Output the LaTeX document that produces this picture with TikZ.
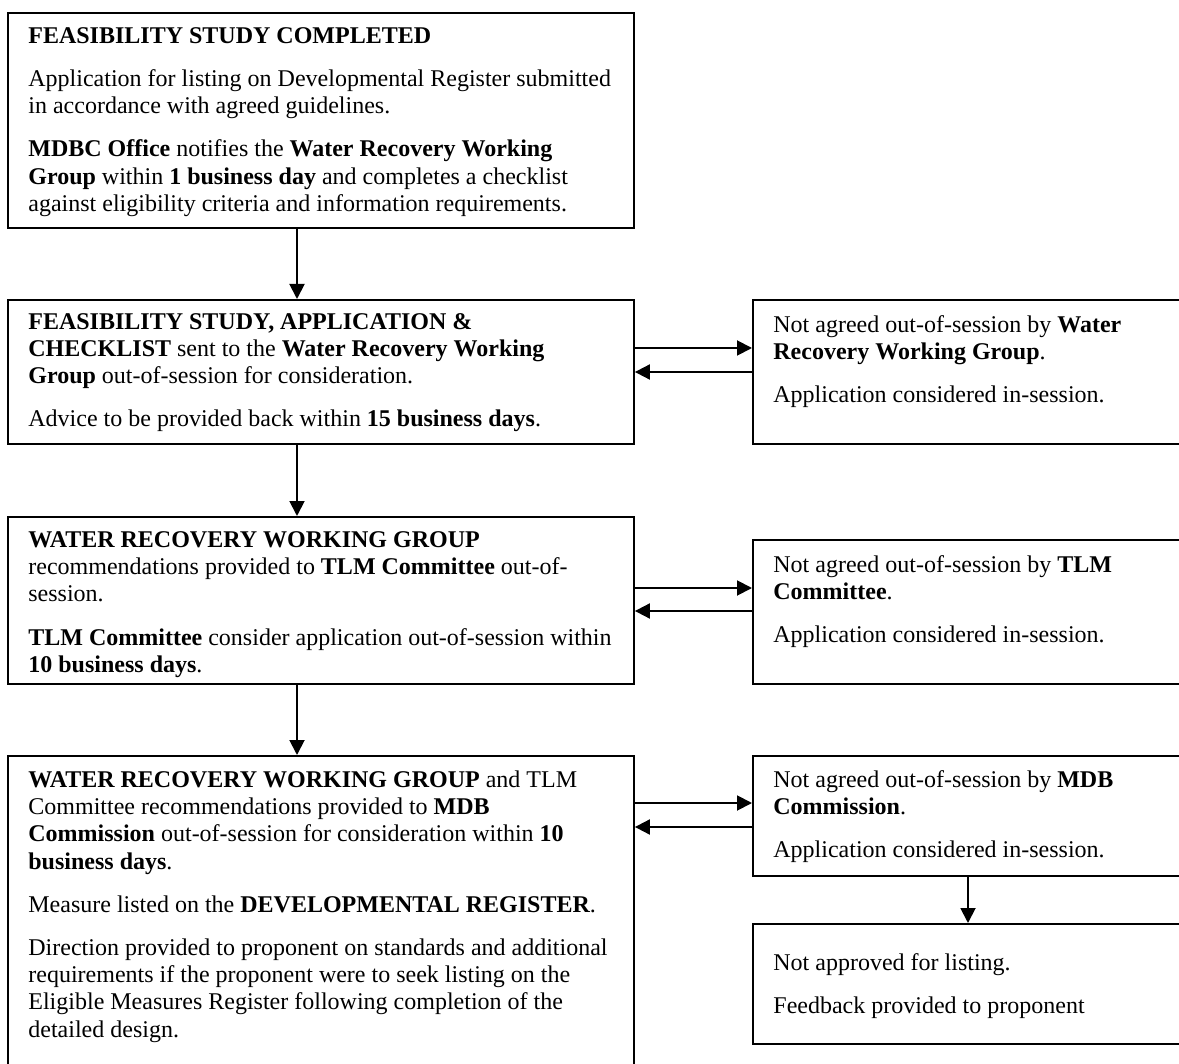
\documentclass[tikz,border=0pt]{standalone}
\usepackage{fontspec}
\setmainfont{Liberation Serif}
\usetikzlibrary{arrows.meta}
\newcommand\topstrut{\rule{0pt}{10pt}}
\begin{document}
\begin{tikzpicture}[x=0.5pt,y=-0.5pt,
  box/.style={draw, line width=0.95pt, anchor=north west, inner sep=0pt, minimum width=313pt},
  rbox/.style={draw, line width=0.95pt, anchor=north west, inner sep=0pt, minimum width=225pt},
  txt/.style={anchor=north west, inner sep=0pt, align=left, font=\fontsize{12}{13.6}\selectfont},
  arr/.style={line width=0.95pt, -{Triangle[length=7.5pt,width=7.5pt]}},
]
\useasboundingbox (0,0) rectangle (1179,1064);
\clip (0,0) rectangle (1179,1064);

% boxes
\node[box, minimum height=107.5pt] (b1) at (7,12) {};
\node[box, minimum height=72pt] (b2) at (7,299) {};
\node[box, minimum height=83.5pt] (b3) at (7,516) {};
\node[box, minimum height=165pt] (b4) at (7,755) {};
\node[rbox, minimum height=72pt] (r1) at (752,299) {};
\node[rbox, minimum height=72pt] (r2) at (752,539) {};
\node[rbox, minimum height=60pt] (r3) at (752,755) {};
\node[rbox, minimum height=60pt] (r4) at (752,923) {};

% texts (node top = first baseline - 20)
\node[txt] (t1) at (28,23) {\topstrut\textbf{FEASIBILITY STUDY COMPLETED}\\[8pt]
Application for listing on Developmental Register submitted\\
in accordance with agreed guidelines.\\[8pt]
\textbf{MDBC Office} notifies the \textbf{Water Recovery Working}\\
\textbf{Group} within \textbf{1 business day} and completes a checklist\\
against eligibility criteria and information requirements.};

\node[txt] (t2) at (28,309) {\topstrut\textbf{FEASIBILITY STUDY, APPLICATION \&}\\
\textbf{CHECKLIST} sent to the \textbf{Water Recovery Working}\\
\textbf{Group} out-of-session for consideration.\\[8pt]
Advice to be provided back within \textbf{15 business days}.};

\node[txt] (t3) at (28,527) {\topstrut\textbf{WATER RECOVERY WORKING GROUP}\\
recommendations provided to \textbf{TLM Committee} out-of-\\
session.\\[8pt]
\textbf{TLM Committee} consider application out-of-session within\\
\textbf{10 business days}.};

\node[txt] (t4) at (28,767) {\topstrut\textbf{WATER RECOVERY WORKING GROUP} and TLM\\
Committee recommendations provided to \textbf{MDB}\\
\textbf{Commission} out-of-session for consideration within \textbf{10}\\
\textbf{business days}.\\[8pt]
Measure listed on the \textbf{DEVELOPMENTAL REGISTER}.\\[8pt]
Direction provided to proponent on standards and additional\\
requirements if the proponent were to seek listing on the\\
Eligible Measures Register following completion of the\\
detailed design.};

\node[txt] (s1) at (773,312) {\topstrut Not agreed out-of-session by \textbf{Water}\\
\textbf{Recovery Working Group}.\\[8pt]
Application considered in-session.};

\node[txt] (s2) at (773,552) {\topstrut Not agreed out-of-session by \textbf{TLM}\\
\textbf{Committee}.\\[8pt]
Application considered in-session.};

\node[txt] (s3) at (773,767) {\topstrut Not agreed out-of-session by \textbf{MDB}\\
\textbf{Commission}.\\[8pt]
Application considered in-session.};

\node[txt] (s4) at (773,950) {\topstrut Not approved for listing.\\[8pt]
Feedback provided to proponent};

% connectors
\coordinate (vx) at (297,0);
\coordinate (vx2) at (968,0);
\draw[arr] (b1.south -| vx) -- (b2.north -| vx);
\draw[arr] (b2.south -| vx) -- (b3.north -| vx);
\draw[arr] (b3.south -| vx) -- (b4.north -| vx);
\draw[arr] (r3.south -| vx2) -- (r4.north -| vx2);

\coordinate (h1a) at (0,348);
\coordinate (h1b) at (0,372);
\coordinate (h2a) at (0,588);
\coordinate (h2b) at (0,611);
\coordinate (h3a) at (0,803);
\coordinate (h3b) at (0,827);
\draw[arr] (b2.east |- h1a) -- (r1.west |- h1a);
\draw[arr] (r1.west |- h1b) -- (b2.east |- h1b);
\draw[arr] (b3.east |- h2a) -- (r2.west |- h2a);
\draw[arr] (r2.west |- h2b) -- (b3.east |- h2b);
\draw[arr] (b4.east |- h3a) -- (r3.west |- h3a);
\draw[arr] (r3.west |- h3b) -- (b4.east |- h3b);
\end{tikzpicture}
\end{document}
